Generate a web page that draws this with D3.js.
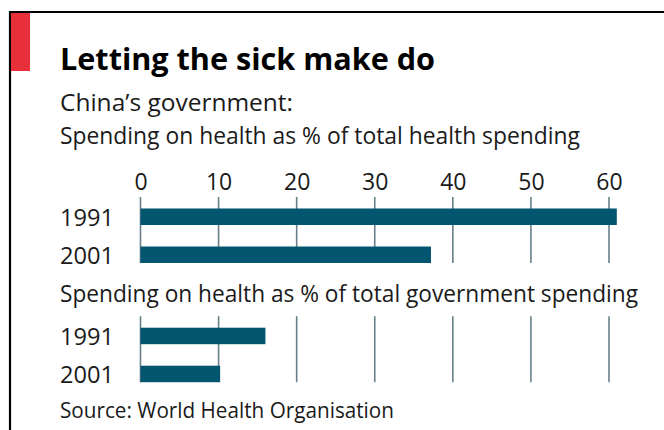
<!DOCTYPE html>
<html>
<head>
<meta charset="utf-8">
<script src="https://cdn.jsdelivr.net/npm/d3@7"></script>
<style>
  body { margin: 0; background: #fff; }
  svg { display: block; font-family: "Open Sans", "DejaVu Sans", sans-serif; }
</style>
</head>
<body>
<div id="chart"></div>
<script>
// data
const years = ['1991', '2001'];
const healthShare = [61, 37.2];       // % of total health spending
const govShare = [16, 10.2];          // % of total government spending
const tickValues = [0, 10, 20, 30, 40, 50, 60];

const width = 664, height = 430;
const barColor = '#03566f';
const gridColor = '#687f8a';

const svg = d3.select('#chart').append('svg')
  .attr('width', width)
  .attr('height', height);

svg.append('rect').attr('width', width).attr('height', height).attr('fill', '#fff');

// frame: top + left black border, red tag
svg.append('path')
  .attr('d', 'M10,430 V12 H664')
  .attr('fill', 'none')
  .attr('stroke', '#000')
  .attr('stroke-width', 2.2);
svg.append('rect')
  .attr('x', 11).attr('y', 13)
  .attr('width', 19).attr('height', 58)
  .attr('fill', '#e8303a');

// titles
const texts = [
  { t: 'Letting the sick make do', y: 70, size: 31, w: 375, bold: true },
  { t: 'China\u2019s government:', y: 111, size: 23.5, w: 233 },
  { t: 'Spending on health as % of total health spending', y: 144, size: 23.5, w: 520 },
  { t: 'Spending on health as % of total government spending', y: 302, size: 23.5, w: 578 },
  { t: 'Source: World Health Organisation', y: 418, size: 21, w: 334 }
];
svg.selectAll('text.hdr')
  .data(texts)
  .join('text')
  .attr('class', 'hdr')
  .attr('x', 60)
  .attr('y', d => d.y)
  .attr('font-size', d => d.size)
  .attr('font-weight', d => d.bold ? 700 : 400)
  .attr('fill', d => d.bold ? '#000' : '#1a1a1a')
  .attr('textLength', d => d.w)
  .attr('lengthAdjust', 'spacingAndGlyphs')
  .text(d => d.t);

const x = d3.scaleLinear().domain([0, 60]).range([140.5, 609]);

// top tick labels
const axis = svg.append('g')
  .attr('transform', 'translate(0,190)')
  .call(d3.axisTop(x).tickValues(tickValues).tickSize(0).tickPadding(0));
axis.select('.domain').remove();
axis.selectAll('text')
  .attr('font-size', 23)
  .attr('font-family', '"Open Sans", sans-serif')
  .attr('fill', '#1a1a1a')
  .attr('dy', 0);

function panel(values, top) {
  const y = d3.scaleBand()
    .domain(years)
    .range([top, top + 54.5])
    .paddingInner(0.566)
    .paddingOuter(0);
  const g = svg.append('g');

  g.selectAll('line.grid')
    .data(tickValues)
    .join('line')
    .attr('class', 'grid')
    .attr('x1', d => x(d)).attr('x2', d => x(d))
    .attr('y1', top - 11.5)
    .attr('y2', y(years[years.length - 1]) + y.bandwidth())
    .attr('stroke', gridColor)
    .attr('stroke-width', 1.6);

  g.selectAll('rect.bar')
    .data(years.map((yr, i) => ({ yr, v: values[i] })))
    .join('rect')
    .attr('class', 'bar')
    .attr('x', x(0))
    .attr('y', d => y(d.yr))
    .attr('width', d => x(d.v) - x(0))
    .attr('height', y.bandwidth())
    .attr('fill', barColor);

  g.selectAll('text.yr')
    .data(years)
    .join('text')
    .attr('class', 'yr')
    .attr('x', 60)
    .attr('y', d => y(d) + y.bandwidth() / 2 + 9.5)
    .attr('font-size', 23.5)
    .attr('fill', '#1a1a1a')
    .attr('textLength', 54)
    .attr('lengthAdjust', 'spacingAndGlyphs')
    .text(d => d);
}

panel(healthShare, 208.5);
panel(govShare, 327.7);
</script>
</body>
</html>
